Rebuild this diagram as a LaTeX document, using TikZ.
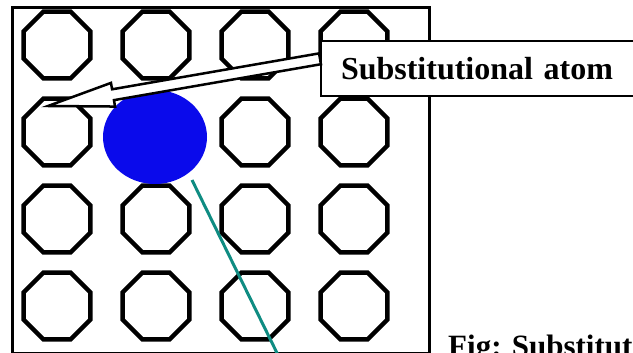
\documentclass[tikz,border=0pt]{standalone}
\usepackage{fontspec}
\setmainfont{Liberation Serif}
\usetikzlibrary{shapes.geometric,calc}
\definecolor{atomblue}{RGB}{10,10,235}
\definecolor{tracecol}{RGB}{15,140,130}
\begin{document}
\begin{tikzpicture}[x=1pt,y=-1pt,
  site/.style={regular polygon, regular polygon sides=8, draw=black,
    line width=4.5pt, minimum size=72pt, inner sep=0pt},
  frame/.style={draw=black, line width=3pt, inner sep=0pt},
  callout/.style={draw=black, line width=2pt, fill=white, inner ysep=0pt,
    inner xsep=20pt, text width=290pt, minimum height=55pt,
    font=\bfseries\fontsize{32}{38}\selectfont},
  arrowline/.style={draw=black, line width=2.5pt, fill=white, line join=miter},
  caption/.style={inner sep=0pt, font=\bfseries\fontsize{31}{37}\selectfont}]
\useasboundingbox (0,0) rectangle (633,353);

% crystal frame
\node[frame, anchor=north west, minimum width=417pt, minimum height=346pt] (box) at (11,6) {};

% lattice sites
\foreach \c in {1,...,4}
  \foreach \r in {1,...,4} {
    \ifnum\c=2 \ifnum\r=2 \else
      \node[site] (site-\c-\r) at ({57+99*(\c-1)},{45+87*(\r-1)}) {};
    \fi \else
      \node[site] (site-\c-\r) at ({57+99*(\c-1)},{45+87*(\r-1)}) {};
    \fi
  }

% substitutional atom
\node[ellipse, fill=atomblue, minimum width=104pt, minimum height=94pt, inner sep=0pt] (sub) at (155,137) {};

% trace line
\coordinate (trace-start) at (192,180);
\coordinate (trace-end) at (278,355);
\draw[tracecol, line width=3pt] (trace-start) -- (trace-end);

% label box
\node[callout, anchor=north west] (lbl) at (320,40) {Substitutional atom};

% hollow arrow from label to the lattice
\coordinate (tip) at (48,106);
\coordinate (tail) at ($(lbl.north west)!0.33!(lbl.south west)$);
\coordinate (hb) at ($(tip)!66pt!(tail)$);
\draw[arrowline] (tip) -- ($(hb)!12pt!90:(tail)$) -- ($(hb)!5.5pt!90:(tail)$)
  -- ($(tail)!5.5pt!-90:(hb)$) -- ($(tail)!5.5pt!90:(hb)$)
  -- ($(hb)!5.5pt!-90:(tail)$) -- ($(hb)!12pt!-90:(tail)$) -- cycle;

% caption
\node[caption, anchor=base west] (cap) at (448,356) {Fig: Substitut};
\end{tikzpicture}
\end{document}
